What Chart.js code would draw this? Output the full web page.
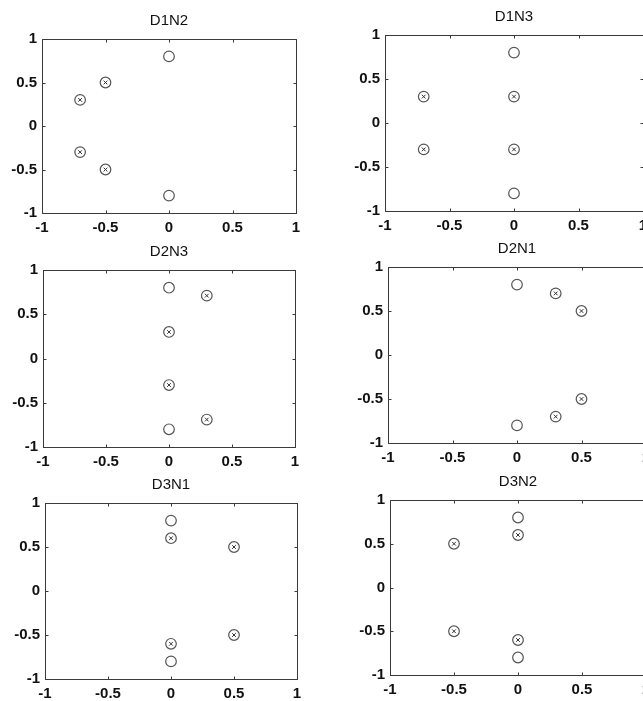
<!DOCTYPE html>
<html><head><meta charset="utf-8">
<script src="https://cdn.jsdelivr.net/npm/chart.js@4.4.0/dist/chart.umd.min.js"></script>
<style>
html,body{margin:0;padding:0;background:#fff;width:643px;height:701px;overflow:hidden;position:relative}
canvas{position:absolute}
</style></head><body>
<script>
// ---- data ----
const titles = ['D1N2','D1N3','D2N3','D2N1','D3N1','D3N2'];
const tickValues = [-1, -0.5, 0, 0.5, 1];
const tickLabels = ['-1', '-0.5', '0', '0.5', '1'];

// zeros (plain circles) and poles (circle with x) per panel
const D1N2_zx = [0, 0],  D1N2_zy = [0.8, -0.8];
const D1N2_px = [-0.5, -0.7, -0.7, -0.5], D1N2_py = [0.5, 0.3, -0.3, -0.5];
const D1N3_zx = [0, 0],  D1N3_zy = [0.8, -0.8];
const D1N3_px = [-0.7, -0.7, 0, 0], D1N3_py = [0.3, -0.3, 0.3, -0.3];
const D2N3_zx = [0, 0],  D2N3_zy = [0.8, -0.8];
const D2N3_px = [0.3, 0, 0, 0.3], D2N3_py = [0.71, 0.3, -0.3, -0.69];
const D2N1_zx = [0, 0],  D2N1_zy = [0.8, -0.8];
const D2N1_px = [0.3, 0.5, 0.5, 0.3], D2N1_py = [0.7, 0.5, -0.5, -0.7];
const D3N1_zx = [0, 0],  D3N1_zy = [0.8, -0.8];
const D3N1_px = [0, 0, 0.5, 0.5], D3N1_py = [0.6, -0.6, 0.5, -0.5];
const D3N2_zx = [0, 0],  D3N2_zy = [0.8, -0.8];
const D3N2_px = [-0.5, -0.5, 0, 0], D3N2_py = [0.5, -0.5, 0.6, -0.6];

const zerosX = [D1N2_zx, D1N3_zx, D2N3_zx, D2N1_zx, D3N1_zx, D3N2_zx];
const zerosY = [D1N2_zy, D1N3_zy, D2N3_zy, D2N1_zy, D3N1_zy, D3N2_zy];
const polesX = [D1N2_px, D1N3_px, D2N3_px, D2N1_px, D3N1_px, D3N2_px];
const polesY = [D1N2_py, D1N3_py, D2N3_py, D2N1_py, D3N1_py, D3N2_py];

// ---- layout (plot frames in page pixels) ----
const frames = [
  {L:42, T:38,  R:296, B:213},
  {L:385,T:34,  R:643, B:211},
  {L:43, T:269, R:295, B:447},
  {L:388,T:266, R:646, B:443},
  {L:45, T:502, R:297, B:679},
  {L:390,T:499, R:646, B:675}
];
const TITLE_H = 40, XAX_H = 25;
const FONT = '"Liberation Sans", Arial, sans-serif';

const framePlugin = {
  id: 'frame',
  afterDatasetsDraw(chart) {
    const {ctx, chartArea: a, scales: {x, y}} = chart;
    ctx.save();
    ctx.strokeStyle = '#3a3a3a';
    ctx.lineWidth = 1;
    const l = Math.round(a.left) + 0.5, t = Math.round(a.top) + 0.5;
    const r = Math.round(a.right) + 0.5, b = Math.round(a.bottom) + 0.5;
    ctx.strokeRect(l, t, r - l, b - t);
    const TL = 3;
    ctx.beginPath();
    tickValues.forEach(v => {
      const px = Math.round(x.getPixelForValue(v)) + 0.5;
      ctx.moveTo(px, b); ctx.lineTo(px, b - TL);
      ctx.moveTo(px, t); ctx.lineTo(px, t + TL);
      const py = Math.round(y.getPixelForValue(v)) + 0.5;
      ctx.moveTo(l, py); ctx.lineTo(l + TL, py);
      ctx.moveTo(r, py); ctx.lineTo(r - TL, py);
    });
    ctx.stroke();
    ctx.restore();
  }
};

frames.forEach((f, i) => {
  const col = i % 2;
  const cLeft = col === 0 ? 0 : 325;
  const cWidth = col === 0 ? 320 : 340;
  const cTop = f.T - TITLE_H;
  const cHeight = TITLE_H + (f.B - f.T) + XAX_H;
  const cv = document.createElement('canvas');
  cv.width = cWidth; cv.height = cHeight;
  cv.style.left = cLeft + 'px'; cv.style.top = cTop + 'px';
  cv.style.width = cWidth + 'px'; cv.style.height = cHeight + 'px';
  document.body.appendChild(cv);

  const allPts = zerosX[i].map((v, k) => ({x: v, y: zerosY[i][k]}))
    .concat(polesX[i].map((v, k) => ({x: v, y: polesY[i][k]})));
  const polePts = polesX[i].map((v, k) => ({x: v, y: polesY[i][k]}));

  const yW = f.L - cLeft;
  const padR = cLeft + cWidth - f.R;

  const axisCommon = {
    type: 'linear', min: -1, max: 1,
    grid: {display: false, drawTicks: false},
    border: {display: false},
    afterBuildTicks: s => { s.ticks = tickValues.map(v => ({value: v})); },
    ticks: {
      color: '#111',
      font: {family: FONT, size: 15, weight: 'bold'},
      callback: v => tickLabels[tickValues.indexOf(v)],
      autoSkip: false, maxRotation: 0
    }
  };

  new Chart(cv, {
    type: 'scatter',
    data: {
      datasets: [
        {data: allPts, pointStyle: 'circle', pointRadius: 5.3, pointBorderWidth: 1.2,
         borderColor: '#555', backgroundColor: 'rgba(0,0,0,0)', showLine: false},
        {data: polePts, pointStyle: 'crossRot', pointRadius: 2.6, pointBorderWidth: 1,
         borderColor: '#333', backgroundColor: 'rgba(0,0,0,0)', showLine: false}
      ]
    },
    options: {
      responsive: false, animation: false, events: [],
      devicePixelRatio: 1,
      layout: {padding: {left: 0, right: padR, top: 0, bottom: 0}},
      plugins: {
        legend: {display: false}, tooltip: {enabled: false},
        title: {display: true, text: titles[i], fullSize: false, color: '#111',
                font: {family: FONT, size: 15, weight: 'normal', lineHeight: 1},
                padding: {top: 15, bottom: 11}}
      },
      scales: {
        x: Object.assign({}, axisCommon, {
          position: 'bottom',
          ticks: Object.assign({}, axisCommon.ticks, {padding: 6}),
          afterFit: s => { s.height = XAX_H; }
        }),
        y: Object.assign({}, axisCommon, {
          position: 'left',
          ticks: Object.assign({}, axisCommon.ticks, {padding: 5}),
          afterFit: s => { s.width = yW; }
        })
      }
    },
    plugins: [framePlugin]
  });
});
</script>
</body></html>
